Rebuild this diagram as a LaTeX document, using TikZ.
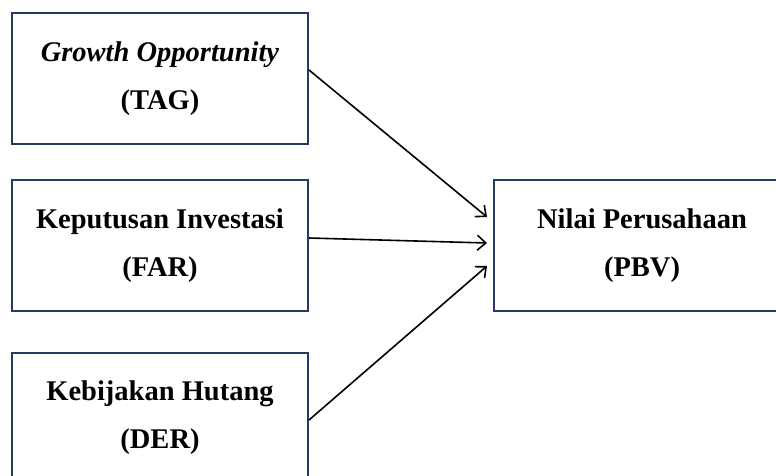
\documentclass[tikz,border=0pt]{standalone}
\usepackage{fontspec}
\setmainfont{Liberation Serif}
\usetikzlibrary{arrows.meta}
\definecolor{boxblue}{RGB}{38,58,98}

\begin{document}
\begin{tikzpicture}[x=1pt,y=-1pt,
	box/.style={draw=boxblue,line width=2pt,minimum width=296pt,minimum height=131pt,
		align=center,font=\fontsize{28.5}{48}\selectfont\bfseries,inner sep=0pt},
	arr/.style={-{Straight Barb[length=8.5pt,width=15pt,line width=1.6pt]},line width=1.6pt,black}]

\useasboundingbox(0,0)rectangle(776,476);
\clip(0,0)rectangle(776,476);

\node[box](tag)at(160,78.5){\textit{Growth Opportunity}\\(TAG)};
\node[box](far)at(160,245.5){Keputusan Investasi\\(FAR)};
\node[box](der)at(160,418){Kebijakan Hutang\\(DER)};
\node[box](pbv)at(642,245.5){Nilai Perusahaan\\(PBV)};

\draw[arr]([yshift=8.5pt]tag.east)--([xshift=-6pt,yshift=28.5pt]pbv.west);
\draw[arr]([yshift=7.5pt]far.east)--([xshift=-6pt,yshift=2.5pt]pbv.west);
\draw[arr]([yshift=-2pt]der.east)--([xshift=-6pt,yshift=-20.5pt]pbv.west);

\end{tikzpicture}
\end{document}
